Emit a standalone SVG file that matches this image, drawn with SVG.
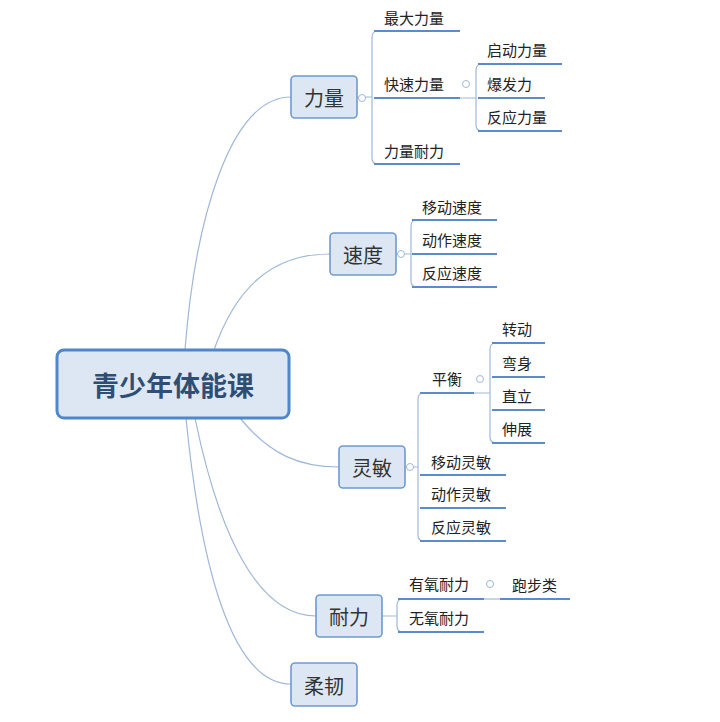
<svg xmlns="http://www.w3.org/2000/svg" width="720" height="722" viewBox="0 0 720 722">
<style>
.c{fill:none;stroke:#9fb8d8;stroke-width:1.2}
.u{stroke:#5a8ccc;stroke-width:2}
.o{fill:#fff;stroke:#9fb8d8;stroke-width:1}
.b{fill:#dde7f3;stroke:#6f9ad0;stroke-width:1.6}
.bt{font-family:"Noto Sans CJK SC",sans-serif;font-size:20px;fill:#333;text-anchor:middle;dominant-baseline:central}
.t{font-family:"Noto Sans CJK SC",sans-serif;font-size:15px;fill:#222;dominant-baseline:central}
</style>
<rect width="720" height="722" fill="#fff"/>
<g id="connectors">
<path class="c" d="M185,350 C195,220 230,97 291,97"/>
<path class="c" d="M214,350 C235,290 270,254 330,254"/>
<path class="c" d="M240,418 C270,455 300,467 339,467"/>
<path class="c" d="M195,418 C220,540 260,616 316,616"/>
<path class="c" d="M186,418 C200,560 230,684 291,684"/>
<!-- 力量 -->
<path class="c" d="M357,97 H372 M372,97 V37 Q372,31 378,31 M372,97 V158 Q372,164 378,164"/>
<path class="c" d="M460,98 H476 M476,98 V70 Q476,64 482,64 M476,98 V125 Q476,131 482,131"/>
<!-- 速度 -->
<path class="c" d="M396,254 H411 M411,254 V226 Q411,220 417,220 M411,254 V281 Q411,287 417,287"/>
<!-- 灵敏 -->
<path class="c" d="M405,467 H418 M418,467 V399 Q418,393 424,393 M418,467 V535 Q418,541 424,541"/>
<path class="c" d="M474,393 H490 M490,393 V349 Q490,343 496,343 M490,393 V437 Q490,443 496,443"/>
<!-- 耐力 -->
<path class="c" d="M382,616 H397 M397,616 V605 Q397,599 403,599 M397,616 V626 Q397,632 403,632"/>
<path class="c" d="M484,599 H500"/>
</g>
<g id="underlines">
<line class="u" x1="374" y1="31" x2="460" y2="31"/>
<line class="u" x1="374" y1="98" x2="460" y2="98"/>
<line class="u" x1="374" y1="164" x2="460" y2="164"/>
<line class="u" x1="478" y1="64" x2="562" y2="64"/>
<line class="u" x1="478" y1="98" x2="545" y2="98"/>
<line class="u" x1="478" y1="131" x2="562" y2="131"/>
<line class="u" x1="412" y1="220" x2="497" y2="220"/>
<line class="u" x1="412" y1="254" x2="497" y2="254"/>
<line class="u" x1="412" y1="287" x2="497" y2="287"/>
<line class="u" x1="420" y1="393" x2="474" y2="393"/>
<line class="u" x1="492" y1="343" x2="545" y2="343"/>
<line class="u" x1="492" y1="377" x2="545" y2="377"/>
<line class="u" x1="492" y1="410" x2="545" y2="410"/>
<line class="u" x1="492" y1="443" x2="545" y2="443"/>
<line class="u" x1="420" y1="475" x2="506" y2="475"/>
<line class="u" x1="420" y1="508" x2="506" y2="508"/>
<line class="u" x1="420" y1="541" x2="506" y2="541"/>
<line class="u" x1="398" y1="599" x2="484" y2="599"/>
<line class="u" x1="398" y1="632" x2="484" y2="632"/>
<line class="u" x1="500" y1="599" x2="570" y2="599"/>
</g>
<g id="root"><rect x="57" y="350" width="232" height="68" rx="7" fill="#dde7f3" stroke="#4f87ca" stroke-width="3"/>
<text x="173" y="384" font-family="Noto Sans CJK SC,sans-serif" font-size="27" font-weight="bold" fill="#2f4e74" text-anchor="middle" dominant-baseline="central">青少年体能课</text></g>
<g id="n-liliang"><rect class="b" x="291" y="76" width="66" height="42" rx="4"/><text class="bt" x="324" y="97">力量</text></g>
<g id="n-sudu"><rect class="b" x="330" y="233" width="66" height="42" rx="4"/><text class="bt" x="363" y="254">速度</text></g>
<g id="n-lingmin"><rect class="b" x="339" y="446" width="66" height="42" rx="4"/><text class="bt" x="372" y="467">灵敏</text></g>
<g id="n-naili"><rect class="b" x="316" y="595" width="66" height="42" rx="4"/><text class="bt" x="349" y="616">耐力</text></g>
<g id="n-rouren"><rect class="b" x="291" y="663" width="66" height="43" rx="4"/><text class="bt" x="324" y="685">柔韧</text></g>
<g id="toggles">
<circle class="o" cx="362" cy="98" r="3.5"/><circle class="o" cx="466" cy="84" r="3.5"/>
<circle class="o" cx="401" cy="254" r="3.5"/><circle class="o" cx="410" cy="467" r="3.5"/>
<circle class="o" cx="480" cy="379" r="3.5"/><circle class="o" cx="490" cy="584" r="3.5"/>
</g>
<g id="leaves">
<text class="t" x="384" y="17">最大力量</text>
<text class="t" x="384" y="83">快速力量</text>
<text class="t" x="384" y="150">力量耐力</text>
<text class="t" x="487" y="49">启动力量</text>
<text class="t" x="487" y="83">爆发力</text>
<text class="t" x="487" y="116">反应力量</text>
<text class="t" x="422" y="206">移动速度</text>
<text class="t" x="422" y="239">动作速度</text>
<text class="t" x="422" y="272">反应速度</text>
<text class="t" x="432" y="378">平衡</text>
<text class="t" x="502" y="328">转动</text>
<text class="t" x="502" y="362">弯身</text>
<text class="t" x="502" y="395">直立</text>
<text class="t" x="502" y="428">伸展</text>
<text class="t" x="431" y="461">移动灵敏</text>
<text class="t" x="431" y="493">动作灵敏</text>
<text class="t" x="431" y="526">反应灵敏</text>
<text class="t" x="409" y="583">有氧耐力</text>
<text class="t" x="409" y="617">无氧耐力</text>
<text class="t" x="512" y="584">跑步类</text>
</g>
</svg>
